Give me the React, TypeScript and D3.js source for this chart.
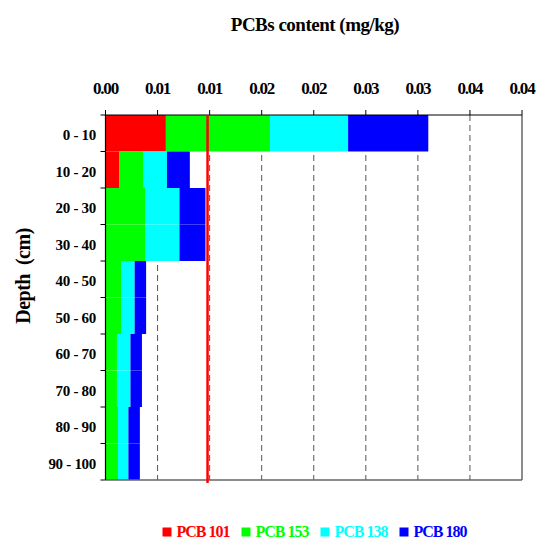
import React from "react";
import * as d3 from "d3";

// depth intervals (cm)
const depths = ["0 - 10", "10 - 20", "20 - 30", "30 - 40", "40 - 50", "50 - 60", "60 - 70", "70 - 80", "80 - 90", "90 - 100"];

// PCB congener contents (mg/kg) per depth interval
const pcb101 = [0.0058, 0.0013, 0, 0, 0, 0, 0, 0, 0, 0];
const pcb153 = [0.0100, 0.0023, 0.0038, 0.0038, 0.0015, 0.0015, 0.0011, 0.0011, 0.0012, 0.0012];
const pcb138 = [0.0075, 0.0023, 0.0033, 0.0033, 0.0013, 0.0013, 0.0013, 0.0013, 0.0010, 0.0010];
const pcb180 = [0.0077, 0.0022, 0.0025, 0.0025, 0.0011, 0.0011, 0.0011, 0.0011, 0.0011, 0.0011];

const seriesNames = ["PCB 101", "PCB 153", "PCB 138", "PCB 180"];
const seriesColors = ["#ff0000", "#00ff00", "#00ffff", "#0000ff"];
const xTicks = [0, 0.005, 0.01, 0.015, 0.02, 0.025, 0.03, 0.035, 0.04];
const xTickLabels = ["0.00", "0.01", "0.01", "0.02", "0.02", "0.03", "0.03", "0.04", "0.04"];
const threshold = 0.0098;

const W = 537, H = 540;
const margin = { top: 115, right: 15, bottom: 60, left: 105.5 };
const font = "'Liberation Serif', 'Times New Roman', serif";

export default function App() {
  const x = d3.scaleLinear().domain([0, 0.04]).range([margin.left, W - margin.right]);
  const y = d3.scaleBand().domain(depths).range([margin.top, H - margin.bottom]).padding(0);

  const rows = depths.map((d, i) => ({
    depth: d,
    "PCB 101": pcb101[i],
    "PCB 153": pcb153[i],
    "PCB 138": pcb138[i],
    "PCB 180": pcb180[i],
  }));
  const stacked = d3.stack<any>().keys(seriesNames)(rows);

  const x0 = x(0), x1 = x(0.04);
  const yTop = margin.top, yBot = H - margin.bottom;
  const bounds = depths.map((d) => y(d)!).concat([yBot]);

  return (
    <svg width={W} height={H} style={{ position: "absolute", left: 0, top: 0, background: "#fff" }}>
      {/* title */}
      <text x={315} y={31} textAnchor="middle" fontFamily={font} fontWeight="bold" fontSize={19} letterSpacing={-0.5}>
        PCBs content (mg/kg)
      </text>

      {/* dashed grid */}
      {xTicks.slice(1, -1).map((t) => (
        <line key={t} x1={x(t)} x2={x(t)} y1={yTop} y2={yBot} stroke="#555" strokeWidth={1} strokeDasharray="6,4" />
      ))}

      {/* stacked bars */}
      {stacked.map((s, si) => (
        <g key={s.key} fill={seriesColors[si]}>
          {s.map((d, i) =>
            d[1] - d[0] > 0 ? (
              <rect key={i} x={x(d[0])} y={y(depths[i])} width={x(d[1]) - x(d[0])} height={y.bandwidth()} />
            ) : null
          )}
        </g>
      ))}

      {/* frame */}
      <line x1={x1} x2={x1} y1={yTop} y2={yBot} stroke="#666" strokeWidth={1.5} />
      <line x1={x0} x2={x1} y1={yBot} y2={yBot} stroke="#666" strokeWidth={1.5} />
      <line x1={x0} x2={x1} y1={yTop} y2={yTop} stroke="#000" strokeWidth={1.2} />
      <line x1={x0} x2={x0} y1={yTop} y2={yBot} stroke="#000" strokeWidth={1.2} />

      {/* top axis ticks and labels */}
      {xTicks.map((t, i) => (
        <g key={t}>
          <line x1={x(t)} x2={x(t)} y1={yTop} y2={yTop - 5} stroke="#000" strokeWidth={1} />
          <text x={x(t)} y={94} textAnchor="middle" fontFamily={font} fontWeight="bold" fontSize={17} letterSpacing={-1.2}>
            {xTickLabels[i]}
          </text>
        </g>
      ))}

      {/* left axis ticks */}
      {bounds.map((b, i) => (
        <line key={i} x1={x0 - 5} x2={x0} y1={b} y2={b} stroke="#000" strokeWidth={1} />
      ))}
      {depths.map((d) => (
        <text key={d} x={96} y={y(d)! + y.bandwidth() / 2 + 7} textAnchor="end" fontFamily={font} fontWeight="bold" fontSize={15} letterSpacing={-0.3}>
          {d}
        </text>
      ))}

      {/* y title */}
      <text transform={`translate(30,276) rotate(-90)`} textAnchor="middle" fontFamily={font} fontWeight="bold" fontSize={20} letterSpacing={-0.5} style={{ whiteSpace: "pre" }}>
        {"Depth  (cm)"}
      </text>

      {/* threshold line */}
      <line x1={x(threshold)} x2={x(threshold)} y1={yTop} y2={yBot + 3} stroke="#ff0000" strokeWidth={2.5} />

      {/* legend */}
      {seriesNames.map((n, i) => {
        const lx = 162.5 + i * 79;
        return (
          <g key={n}>
            <rect x={lx} y={527.5} width={9} height={9} fill={seriesColors[i]} />
            <text x={lx + 14} y={536.5} fill={seriesColors[i]} fontFamily={font} fontWeight="bold" fontSize={16} letterSpacing={-1}>
              {n}
            </text>
          </g>
        );
      })}
    </svg>
  );
}
